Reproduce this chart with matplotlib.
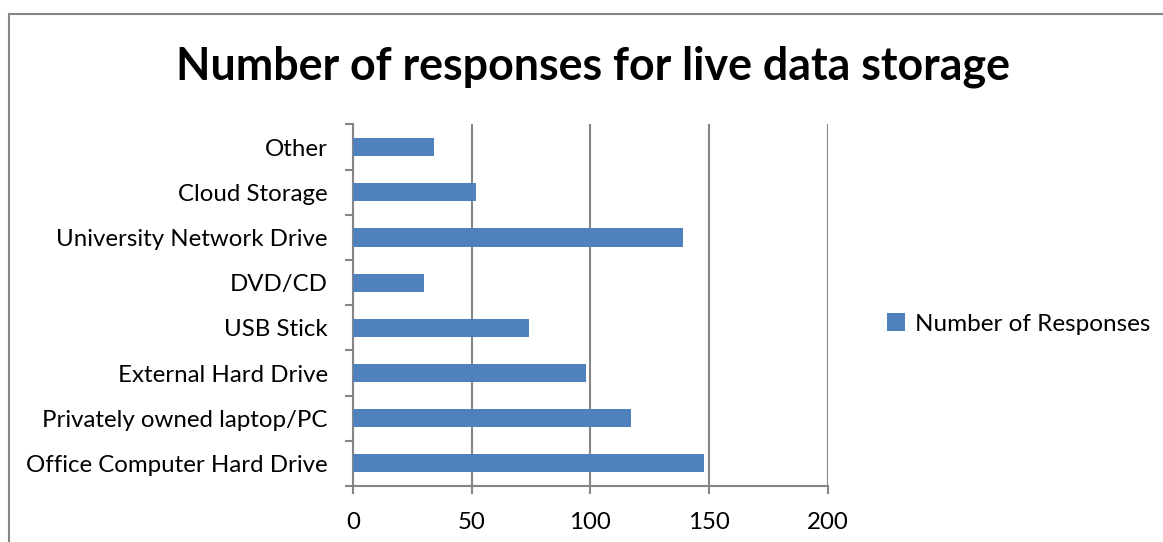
import matplotlib
matplotlib.use('Agg')
from matplotlib import pyplot as plt
from matplotlib.lines import Line2D
from matplotlib.patches import Patch

categories = ['Office Computer Hard Drive', 'Privately owned laptop/PC',
              'External Hard Drive', 'USB Stick', 'DVD/CD',
              'University Network Drive', 'Cloud Storage', 'Other']
responses = [148, 117, 98, 74, 30, 139, 52, 34]
x_ticks = [0, 50, 100, 150, 200]
series_name = 'Number of Responses'
title = 'Number of responses for live data storage'

BAR = '#4f81bd'
GRID = '#868686'


def main():
    plt.rcParams['font.family'] = ['Lato', 'DejaVu Sans']
    fig = plt.figure(figsize=(11.63, 5.42), dpi=100)
    ax = fig.add_axes([0.3033, 0.1033, 0.4087, 0.667])

    pos = list(range(len(categories)))
    ax.barh(pos, responses, height=0.4, color=BAR, zorder=3)
    ax.set_ylim(-0.5, len(categories) - 0.5)
    ax.set_xlim(0, 200)

    ax.set_xticks(x_ticks)
    ax.set_xticklabels([str(t) for t in x_ticks], fontsize=17.3)
    ax.set_yticks(pos)
    ax.set_yticklabels(categories, fontsize=17.3)
    ax.tick_params(axis='y', length=0, pad=18)
    ax.set_yticks([p - 0.5 for p in pos] + [len(pos) - 0.5], minor=True)
    ax.tick_params(axis='y', which='minor', length=6, width=1.5, color=GRID)
    ax.tick_params(axis='x', length=6, width=1.5, color=GRID, pad=13)

    ax.grid(axis='x', color=GRID, linewidth=1.5, zorder=0)
    for side in ['top', 'right']:
        ax.spines[side].set_visible(False)
    for side in ['left', 'bottom']:
        ax.spines[side].set_color(GRID)
        ax.spines[side].set_linewidth(1.5)

    fig.text(0.51, 0.877, title, ha='center', va='center',
             fontsize=32.2, fontweight='bold')

    handle = Patch(facecolor=BAR, edgecolor='none')
    fig.legend([handle], [series_name], loc='center left',
               bbox_to_anchor=(0.7625, 0.402), frameon=False, fontsize=17.5,
               handlelength=0.75, handleheight=0.75, handletextpad=0.4,
               borderpad=0, borderaxespad=0)

    # chart area border, only top and left edges visible
    fig.add_artist(Line2D([0.008, 0.008], [0, 0.975], color=GRID,
                          linewidth=1.5, transform=fig.transFigure))
    fig.add_artist(Line2D([0.008, 1.0], [0.975, 0.975], color=GRID,
                          linewidth=1.5, transform=fig.transFigure))

    fig.savefig('out.png', dpi=100)


if __name__ == '__main__':
    main()
